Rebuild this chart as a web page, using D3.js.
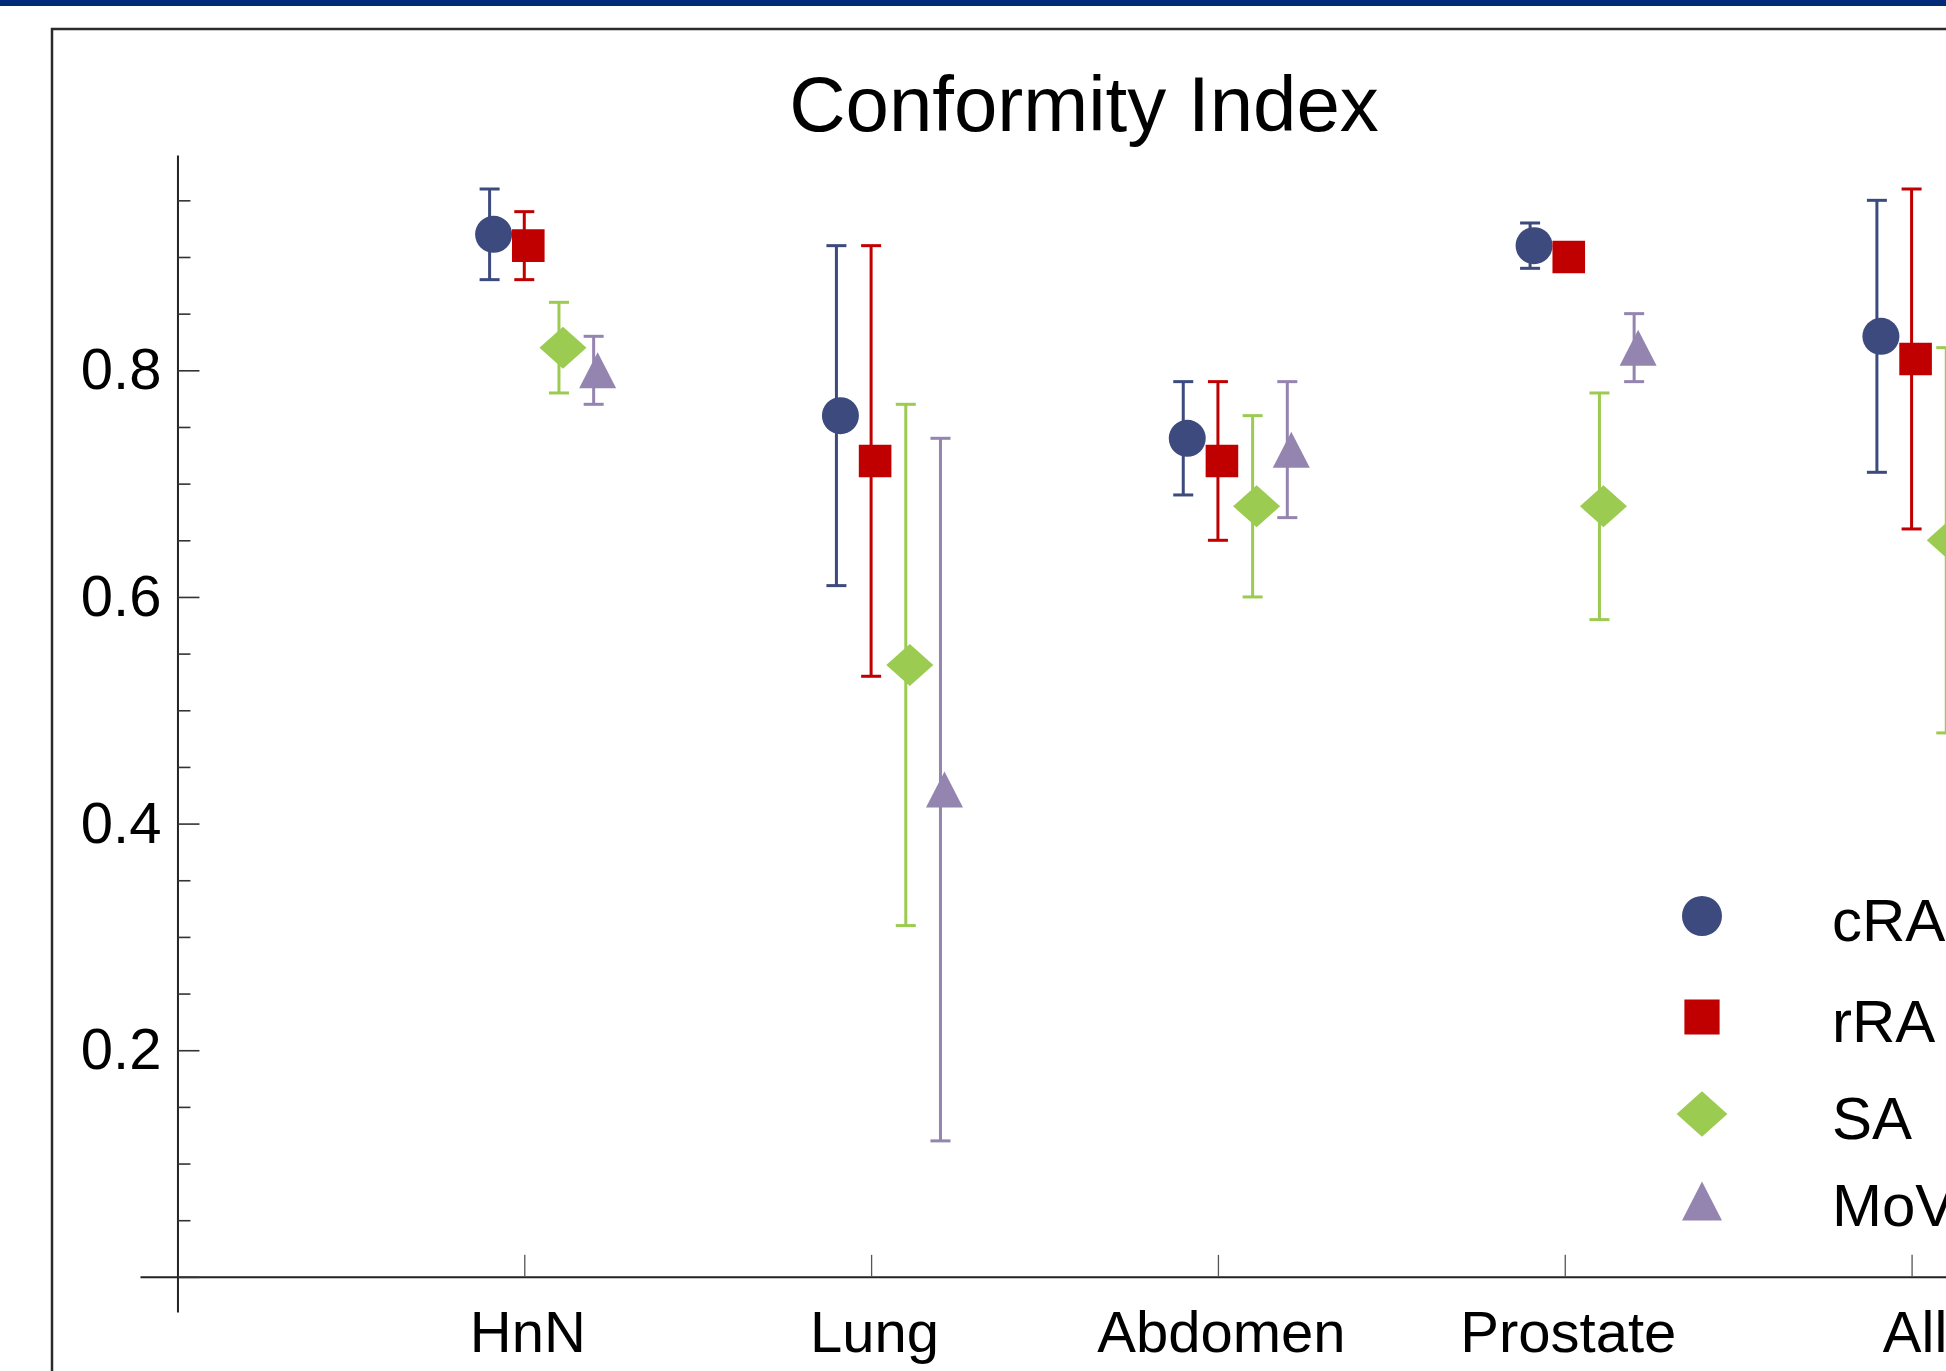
<!DOCTYPE html>
<html>
<head>
<meta charset="utf-8">
<script src="https://cdn.jsdelivr.net/npm/d3@7"></script>
<style>
  body { margin: 0; background: #fff; }
  svg { display: block; }
  text { font-family: "Liberation Sans", Arial, Helvetica, sans-serif; fill: #000; }
</style>
</head>
<body>
<div id="chart"></div>
<script>
// data (mean and +/- spread per site)
var categories = ["HnN", "Lung", "Abdomen", "Prostate", "All"];
var seriesNames = ["cRA", "rRA", "SA", "MoV"];

var cRAMean = [0.92, 0.76, 0.74, 0.91, 0.83];
var cRAErr  = [0.04, 0.15, 0.05, 0.02, 0.12];
var rRAMean = [0.91, 0.72, 0.72, 0.90, 0.81];
var rRAErr  = [0.03, 0.19, 0.07, 0.01, 0.15];
var SAMean  = [0.82, 0.54, 0.68, 0.68, 0.65];
var SAErr   = [0.04, 0.23, 0.08, 0.10, 0.17];
var MoVMean = [0.80, 0.43, 0.73, 0.82, 0.69];
var MoVErr  = [0.03, 0.31, 0.06, 0.03, 0.18];

var yMajorTicks = [0, 0.2, 0.4, 0.6, 0.8];
var yMinorTicks = [0.05, 0.1, 0.15, 0.25, 0.3, 0.35, 0.45, 0.5, 0.55, 0.65, 0.7, 0.75, 0.85, 0.9, 0.95];

var width = 1946, height = 1371;

var series = [
  { name: seriesNames[0], mean: cRAMean, err: cRAErr, color: "#3c4a7d", shape: "circle",   dx: -0.1 },
  { name: seriesNames[1], mean: rRAMean, err: rRAErr, color: "#c00000", shape: "square",   dx: 0 },
  { name: seriesNames[2], mean: SAMean,  err: SAErr,  color: "#9bcb50", shape: "diamond",  dx: 0.1 },
  { name: seriesNames[3], mean: MoVMean, err: MoVErr, color: "#9484b0", shape: "triangle", dx: 0.2 }
];

var svg = d3.select("#chart")
  .append("svg")
  .attr("width", width)
  .attr("height", height);

// top navy band + outer frame
svg.append("rect")
  .attr("x", 0).attr("y", 0)
  .attr("width", width).attr("height", 6)
  .style("fill", "#022a78");

svg.append("rect")
  .attr("x", 52).attr("y", 29)
  .attr("width", 2200).attr("height", 2000)
  .style("fill", "none")
  .style("stroke", "#2b2b2b")
  .style("stroke-width", 2.5);

svg.append("text")
  .attr("x", 1084)
  .attr("y", 131)
  .attr("text-anchor", "middle")
  .style("font-size", "78px")
  .text("Conformity Index");

var x = d3.scaleLinear().domain([-0.108, 5.5]).range([140, 2085]);
var y = d3.scaleLinear().domain([-0.031, 0.99]).range([1312, 155]);

// x axis (ticks pointing up into the plot)
var xAxis = svg.append("g")
  .attr("transform", "translate(0," + y(0) + ")")
  .call(d3.axisBottom(x)
    .tickValues(d3.range(1, categories.length + 1))
    .tickFormat(function(i) { return categories[i - 1]; })
    .tickSize(-22)
    .tickSizeOuter(0)
    .tickPadding(34));
xAxis.select(".domain").style("stroke", "#222").style("stroke-width", 2);
xAxis.selectAll(".tick line").style("stroke", "#555").style("stroke-width", 1.3);
xAxis.selectAll(".tick text")
  .attr("dx", 3)
  .style("font-size", "58px")
  .style("font-family", "'Liberation Sans', Arial, sans-serif")
  .style("fill", "#000");

// y axis
var yAxis = svg.append("g")
  .attr("transform", "translate(" + x(0) + ",0)")
  .call(d3.axisLeft(y)
    .tickValues(yMajorTicks)
    .tickFormat(function(v) { return v === 0 ? "" : d3.format(".1f")(v); })
    .tickSize(-22)
    .tickSizeOuter(0)
    .tickPadding(16));
yAxis.select(".domain").style("stroke", "#222").style("stroke-width", 2);
yAxis.selectAll(".tick line").style("stroke", "#333").style("stroke-width", 1.6);
yAxis.selectAll(".tick text")
  .style("font-size", "58px")
  .style("font-family", "'Liberation Sans', Arial, sans-serif")
  .style("fill", "#000");

var yMinor = svg.append("g")
  .attr("transform", "translate(" + x(0) + ",0)")
  .call(d3.axisLeft(y)
    .tickValues(yMinorTicks)
    .tickFormat("")
    .tickSize(-13)
    .tickSizeOuter(0));
yMinor.select(".domain").remove();
yMinor.selectAll(".tick line").style("stroke", "#333").style("stroke-width", 1.6);

// marker outlines, k scales the legend a bit larger
function markerPath(shape, cx, cy, k) {
  k = k || 1;
  if (shape === "circle") {
    var r = 18.5 * k;
    return "M" + (cx - r) + "," + cy + "a" + r + "," + r + " 0 1,0 " + (2 * r) + ",0a" + r + "," + r + " 0 1,0 " + (-2 * r) + ",0Z";
  }
  if (shape === "square") {
    var h = 16.3 * k;
    return "M" + (cx - h) + "," + (cy - h) + "H" + (cx + h) + "V" + (cy + h) + "H" + (cx - h) + "Z";
  }
  if (shape === "diamond") {
    var w = 23.5 * k, dh = 21 * k;
    return "M" + cx + "," + (cy - dh) + "L" + (cx + w) + "," + cy + "L" + cx + "," + (cy + dh) + "L" + (cx - w) + "," + cy + "Z";
  }
  var tw = 18.5 * k, th = 18 * k;
  return "M" + cx + "," + (cy - th) + "L" + (cx + tw) + "," + (cy + th) + "L" + (cx - tw) + "," + (cy + th) + "Z";
}

var markerShift = 4;
var capHalf = 10;

series.forEach(function(s) {
  var rows = categories.map(function(c, i) {
    return { cat: i + 1, mean: s.mean[i], err: s.err[i] };
  });

  var g = svg.append("g").attr("class", "series-" + s.name);

  var bars = g.selectAll(".err")
    .data(rows)
    .enter().append("g")
    .attr("class", "err")
    .style("stroke", s.color)
    .style("stroke-width", 3);

  bars.append("line")
    .attr("x1", function(d) { return x(d.cat + s.dx); })
    .attr("x2", function(d) { return x(d.cat + s.dx); })
    .attr("y1", function(d) { return y(d.mean + d.err); })
    .attr("y2", function(d) { return y(d.mean - d.err); });

  bars.append("line")
    .attr("x1", function(d) { return x(d.cat + s.dx) - capHalf; })
    .attr("x2", function(d) { return x(d.cat + s.dx) + capHalf; })
    .attr("y1", function(d) { return y(d.mean + d.err); })
    .attr("y2", function(d) { return y(d.mean + d.err); });

  bars.append("line")
    .attr("x1", function(d) { return x(d.cat + s.dx) - capHalf; })
    .attr("x2", function(d) { return x(d.cat + s.dx) + capHalf; })
    .attr("y1", function(d) { return y(d.mean - d.err); })
    .attr("y2", function(d) { return y(d.mean - d.err); });

  g.selectAll(".marker")
    .data(rows)
    .enter().append("path")
    .attr("class", "marker")
    .attr("d", function(d) { return markerPath(s.shape, x(d.cat + s.dx) + markerShift, y(d.mean)); })
    .style("fill", s.color);
});

// legend
var legendRowY = [916, 1017, 1114, 1201];
var legend = svg.selectAll(".legend")
  .data(series)
  .enter().append("g")
  .attr("class", "legend");

legend.append("path")
  .attr("d", function(d, i) { return markerPath(d.shape, 1702, legendRowY[i], 1.08); })
  .style("fill", function(d) { return d.color; });

legend.append("text")
  .attr("x", 1832)
  .attr("y", function(d, i) { return legendRowY[i] + 24.5; })
  .style("font-size", "60px")
  .text(function(d) { return d.name; });
</script>
</body>
</html>
